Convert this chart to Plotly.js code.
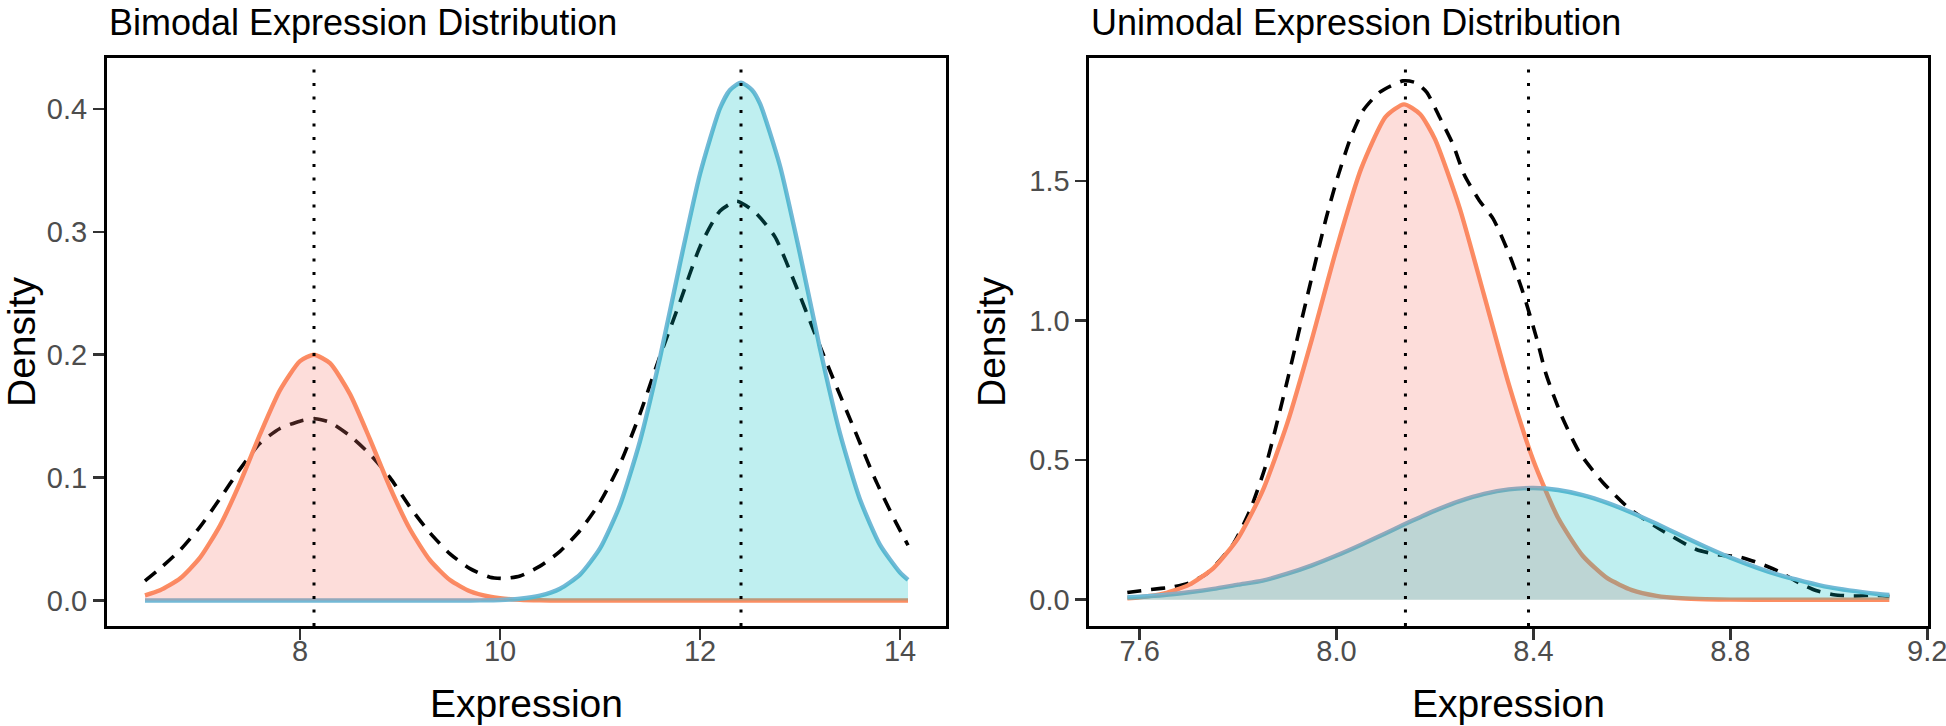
<!DOCTYPE html>
<html>
<head>
<meta charset="utf-8">
<script src="https://cdn.plot.ly/plotly-3.0.1.min.js"></script>
<style>
  html, body { margin: 0; padding: 0; background: #ffffff; }
  #chart { width: 1946px; height: 726px; }
</style>
</head>
<body>
<div id="chart"></div>
<script>
// ---------- Bimodal panel ----------
const bimodalX = [6.45, 6.6, 6.8, 7.0, 7.2, 7.4, 7.6, 7.8, 8.0, 8.14, 8.3, 8.5, 8.7, 8.9, 9.1, 9.3, 9.5, 9.7, 9.9, 10.0, 10.2, 10.4, 10.6, 10.8, 11.0, 11.2, 11.4, 11.6, 11.8, 12.0, 12.2, 12.3, 12.41, 12.52, 12.6, 12.8, 13.0, 13.2, 13.4, 13.6, 13.8, 14.0, 14.08];
const bimodalLow = [0.0043, 0.0083, 0.0179, 0.0349, 0.0610, 0.0958, 0.1352, 0.1712, 0.1948, 0.2000, 0.1932, 0.1680, 0.1312, 0.0920, 0.0580, 0.0328, 0.0167, 0.0076, 0.0031, 0.0019, 0.0007, 0.0002, 0, 0, 0, 0, 0, 0, 0, 0, 0, 0, 0, 0, 0, 0, 0, 0, 0, 0, 0, 0, 0];
const bimodalHigh = [0, 0, 0, 0, 0, 0, 0, 0, 0, 0, 0, 0, 0, 0, 0, 0, 0, 0.0001, 0.0003, 0.0005, 0.0015, 0.0040, 0.0096, 0.0211, 0.0424, 0.0777, 0.1298, 0.1976, 0.2743, 0.3471, 0.4006, 0.4155, 0.4215, 0.4155, 0.4043, 0.3536, 0.2820, 0.2050, 0.1359, 0.0822, 0.0453, 0.0228, 0.0168];
const bimodalDensX = [6.45, 6.6, 6.8, 7.0, 7.2, 7.4, 7.6, 7.8, 8.0, 8.15, 8.3, 8.5, 8.7, 8.9, 9.1, 9.3, 9.5, 9.7, 9.9, 10.05, 10.2, 10.4, 10.6, 10.8, 11.0, 11.2, 11.4, 11.6, 11.8, 12.0, 12.2, 12.37, 12.55, 12.75, 12.95, 13.15, 13.35, 13.55, 13.75, 13.95, 14.08];
const bimodalDens = [0.016, 0.026, 0.041, 0.060, 0.083, 0.107, 0.128, 0.140, 0.146, 0.148, 0.145, 0.134, 0.119, 0.100, 0.076, 0.055, 0.038, 0.026, 0.019, 0.018, 0.020, 0.028, 0.040, 0.057, 0.080, 0.111, 0.152, 0.199, 0.243, 0.288, 0.317, 0.325, 0.316, 0.296, 0.258, 0.217, 0.177, 0.138, 0.099, 0.065, 0.045];
const bimodalMeans = [8.14, 12.41];
const bimodalXTicks = [8, 10, 12, 14];
const bimodalYTicks = [0, 0.1, 0.2, 0.3, 0.4];

// ---------- Unimodal panel ----------
const unimodalX = [7.575, 7.6, 7.65, 7.7, 7.75, 7.8, 7.85, 7.9, 7.95, 8.0, 8.05, 8.1, 8.137, 8.17, 8.2, 8.25, 8.3, 8.35, 8.4, 8.45, 8.5, 8.55, 8.6, 8.65, 8.7, 8.75, 8.8, 8.9, 9.0, 9.1, 9.123];
const unimodalLow = [0.0054, 0.0089, 0.0228, 0.0532, 0.1133, 0.2203, 0.3908, 0.6323, 0.9333, 1.2567, 1.5437, 1.7300, 1.7740, 1.7388, 1.6493, 1.4032, 1.0891, 0.7712, 0.4981, 0.2935, 0.1577, 0.0773, 0.0346, 0.0141, 0.0053, 0.0018, 0.0005, 0, 0, 0, 0];
const unimodalHigh = [0.009, 0.011, 0.017, 0.027, 0.039, 0.054, 0.0684, 0.0932, 0.1232, 0.1582, 0.1971, 0.2384, 0.2693, 0.2958, 0.3191, 0.3530, 0.3791, 0.3952, 0.4000, 0.3929, 0.3746, 0.3468, 0.3116, 0.2718, 0.2301, 0.1891, 0.1508, 0.0878, 0.0454, 0.0208, 0.0171];
const unimodalDensX = [7.575, 7.62, 7.668, 7.70, 7.736, 7.76, 7.79, 7.824, 7.858, 7.898, 7.939, 7.979, 8.0, 8.027, 8.054, 8.088, 8.135, 8.16, 8.183, 8.21, 8.236, 8.26, 8.29, 8.318, 8.352, 8.379, 8.406, 8.426, 8.457, 8.494, 8.541, 8.595, 8.663, 8.731, 8.78, 8.819, 8.86, 8.9, 8.94, 8.974, 9.01, 9.049, 9.09, 9.123];
const unimodalDens = [0.026, 0.036, 0.046, 0.060, 0.093, 0.135, 0.199, 0.319, 0.491, 0.770, 1.075, 1.367, 1.500, 1.646, 1.752, 1.818, 1.858, 1.852, 1.818, 1.726, 1.633, 1.520, 1.430, 1.365, 1.232, 1.099, 0.939, 0.806, 0.659, 0.526, 0.420, 0.326, 0.246, 0.180, 0.160, 0.153, 0.130, 0.100, 0.060, 0.033, 0.018, 0.013, 0.016, 0.012];
const unimodalMeans = [8.14, 8.39];
const unimodalXTicks = [7.6, 8.0, 8.4, 8.8, 9.2];
const unimodalYTicks = [0, 0.5, 1.0, 1.5];

const panelTitles = ["Bimodal Expression Distribution", "Unimodal Expression Distribution"];
const xTitle = "Expression";
const yTitle = "Density";

// ---------- styles ----------
const orangeLine = "#FC8D62";
const blueLine = "#73B9D6";
const orangeFill = "rgba(248,118,109,0.25)";
const blueFill = "rgba(0,191,196,0.25)";
const FONT = "Liberation Sans, Arial, sans-serif";

function panelTraces(xs, low, high, dx, dy, xa, ya) {
  const sp = {shape: "spline", smoothing: 0.6};
  return [
    {x: dx, y: dy, xaxis: xa, yaxis: ya, type: "scatter", mode: "lines",
     line: {color: "#000000", width: 3.6, dash: "14px,10px", shape: "spline", smoothing: 0.6}, hoverinfo: "skip"},
    {x: xs, y: low, xaxis: xa, yaxis: ya, type: "scatter", mode: "lines",
     line: Object.assign({color: orangeLine, width: 4.4}, sp), hoverinfo: "skip"},
    {x: xs, y: high, xaxis: xa, yaxis: ya, type: "scatter", mode: "lines",
     line: Object.assign({color: blueLine, width: 4.4}, sp), hoverinfo: "skip"},
    {x: xs, y: low, xaxis: xa, yaxis: ya, type: "scatter", mode: "none", fill: "tozeroy",
     fillcolor: orangeFill, line: sp, hoverinfo: "skip"},
    {x: xs, y: high, xaxis: xa, yaxis: ya, type: "scatter", mode: "none", fill: "tozeroy",
     fillcolor: blueFill, line: sp, hoverinfo: "skip"}
  ];
}

const traces = [].concat(
  panelTraces(bimodalX, bimodalLow, bimodalHigh, bimodalDensX, bimodalDens, "x", "y"),
  panelTraces(unimodalX, unimodalLow, unimodalHigh, unimodalDensX, unimodalDens, "x2", "y2")
);

const W = 1946, H = 726;
const yDom = [1 - 626 / H, 1 - 58 / H];

function axisBase() {
  return {
    showgrid: false, zeroline: false,
    showline: true, mirror: true, linecolor: "#000000", linewidth: 3,
    ticks: "outside", ticklen: 11, tickwidth: 2.6, tickcolor: "#333333",
    tickfont: {family: FONT, size: 29, color: "#4D4D4D"},
    ticklabeloverflow: "allow",
    fixedrange: true
  };
}

const shapes = [];
bimodalMeans.forEach(m => shapes.push({type: "line", xref: "x", yref: "y domain", x0: m, x1: m, y0: 0, y1: 0.985,
  line: {color: "#000000", width: 3, dash: "3px,10.5px"}}));
unimodalMeans.forEach(m => shapes.push({type: "line", xref: "x2", yref: "y2 domain", x0: m, x1: m, y0: 0, y1: 0.985,
  line: {color: "#000000", width: 3, dash: "3px,10.5px"}}));

const layout = {
  width: W, height: H,
  margin: {l: 0, r: 0, t: 0, b: 0},
  paper_bgcolor: "#ffffff", plot_bgcolor: "#ffffff",
  showlegend: false,
  font: {family: FONT, color: "#000000"},
  xaxis: Object.assign(axisBase(), {domain: [107 / W, 946 / W], anchor: "y", range: [6.07, 14.46],
    tickvals: bimodalXTicks, ticktext: bimodalXTicks.map(v => String(v)), ticklabelstandoff: -14,
    title: {text: xTitle, font: {family: FONT, size: 39, color: "#000000"}, standoff: 24}}),
  yaxis: Object.assign(axisBase(), {domain: yDom, anchor: "x", range: [-0.0207, 0.4415],
    tickvals: bimodalYTicks, ticktext: bimodalYTicks.map(v => v.toFixed(1)),
    title: {text: yTitle, font: {family: FONT, size: 39, color: "#000000"}, standoff: 12}}),
  xaxis2: Object.assign(axisBase(), {domain: [1089.4 / W, 1927.5 / W], anchor: "y2", range: [7.498, 9.2005],
    tickvals: unimodalXTicks, ticktext: unimodalXTicks.map(v => v.toFixed(1)), ticklabelstandoff: -14,
    title: {text: xTitle, font: {family: FONT, size: 39, color: "#000000"}, standoff: 24}}),
  yaxis2: Object.assign(axisBase(), {domain: yDom, anchor: "x2", range: [-0.094, 1.940],
    tickvals: unimodalYTicks, ticktext: unimodalYTicks.map(v => v.toFixed(1)),
    title: {text: yTitle, font: {family: FONT, size: 39, color: "#000000"}, standoff: 12}}),
  shapes: shapes,
  annotations: [
    {text: panelTitles[0], xref: "paper", yref: "paper", x: 107 / W, y: 1, xanchor: "left", yanchor: "top",
     showarrow: false, font: {family: FONT, size: 36, color: "#000000"}},
    {text: panelTitles[1], xref: "paper", yref: "paper", x: 1089.4 / W, y: 1, xanchor: "left", yanchor: "top",
     showarrow: false, font: {family: FONT, size: 36, color: "#000000"}}
  ]
};

Plotly.newPlot("chart", traces, layout, {staticPlot: true, displayModeBar: false});
</script>
</body>
</html>
